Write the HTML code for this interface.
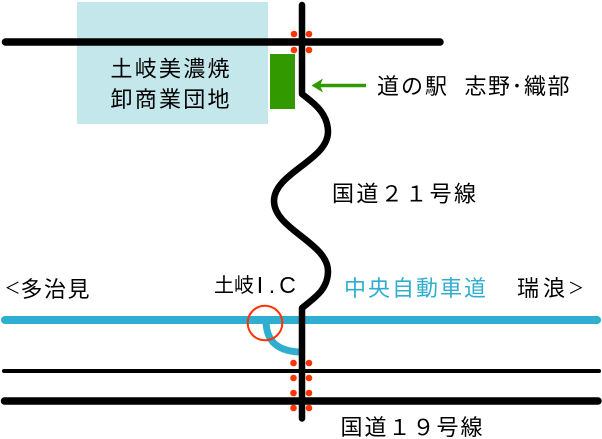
<!DOCTYPE html>
<html><head><meta charset="utf-8">
<style>
html,body{margin:0;padding:0;background:#fff;}
svg{display:block;}
text{font-family:"Liberation Sans","Noto Sans CJK JP",sans-serif;}
</style></head>
<body>
<svg width="602" height="439" viewBox="0 0 602 439" xmlns="http://www.w3.org/2000/svg">
  <!-- wholesale complex area -->
  <rect x="77" y="2" width="191" height="122" fill="#c4e7eb"/>
  <!-- top road -->
  <line x1="5.5" y1="42" x2="440" y2="42" stroke="#000" stroke-width="7.5" stroke-linecap="round"/>
  <!-- michi-no-eki green block -->
  <rect x="270" y="54" width="25" height="55" fill="#339900"/>

  <!-- lower roads -->
  <line x1="4" y1="371" x2="599" y2="371" stroke="#000" stroke-width="4" stroke-linecap="round"/>
  <line x1="4.5" y1="401" x2="598" y2="401" stroke="#000" stroke-width="7.5" stroke-linecap="round"/>

  <!-- IC ramp -->
  <path d="M266,320 C266,340 276,352 303,352" fill="none" stroke="#30aed0" stroke-width="7"/>
  <!-- expressway -->
  <line x1="5" y1="320" x2="597" y2="320" stroke="#30aed0" stroke-width="8" stroke-linecap="round"/>

  <!-- route 21 -->
  <path d="M302,5 L302,94 C312,102 328,112 328,132 C328,160 274,173 274,201 C274,229 328,243 328,271 C328,290 314,298 302,308 L302,418.5"
        fill="none" stroke="#000" stroke-width="6.5" stroke-linecap="round" stroke-linejoin="round"/>

  <!-- IC circle -->
  <circle cx="265" cy="323" r="17.3" fill="none" stroke="#ff3300" stroke-width="2"/>

  <!-- red dots -->
  <g fill="#ff3300">
    <circle cx="294" cy="34" r="3.3"/><circle cx="309" cy="34" r="3.3"/>
    <circle cx="294" cy="50" r="3.3"/><circle cx="309" cy="50" r="3.3"/>
    <circle cx="293.5" cy="363" r="3.3"/><circle cx="309" cy="363" r="3.3"/>
    <circle cx="293.5" cy="378" r="3.3"/><circle cx="309" cy="378" r="3.3"/>
    <circle cx="293.5" cy="393" r="3.3"/><circle cx="309" cy="393" r="3.3"/>
    <circle cx="293.5" cy="408" r="3.3"/><circle cx="309" cy="408" r="3.3"/>
  </g>

  <!-- green arrow -->
  <line x1="320" y1="85.5" x2="366" y2="85.5" stroke="#339900" stroke-width="3.5"/>
  <polygon points="311.5,85.5 323,78.5 320,85.5 323,92.5" fill="#339900"/>

  <!-- labels -->
  <text x="110.5" y="76.5" font-size="22" textLength="119" lengthAdjust="spacing" fill="#000">土岐美濃焼</text>
  <text x="110.5" y="107" font-size="22" textLength="119" lengthAdjust="spacing" fill="#000">卸商業団地</text>

  <text x="377" y="94" font-size="22" textLength="70" lengthAdjust="spacing" fill="#000">道の駅</text>
  <text x="464.5" y="94" font-size="22" textLength="105" lengthAdjust="spacing" fill="#000">志野･織部</text>

  <text x="332" y="201.5" font-size="22" textLength="144" lengthAdjust="spacing" fill="#000">国道２１号線</text>

  <text x="12.5" y="293.5" font-size="16" text-anchor="middle" fill="#000">＜</text>
  <text x="20.5" y="297" font-size="22" textLength="69" lengthAdjust="spacing" fill="#000">多治見</text>

  <text x="214" y="292" font-size="20" textLength="40" lengthAdjust="spacing" fill="#000">土岐</text>
  <text x="260" y="293" font-size="23" text-anchor="middle" fill="#000">I</text>
  <text x="272" y="293" font-size="23" text-anchor="middle" fill="#000">.</text>
  <text x="287.5" y="293" font-size="23" text-anchor="middle" fill="#000">C</text>

  <text x="344" y="296" font-size="22" textLength="142" lengthAdjust="spacing" fill="#30aed0">中央自動車道</text>

  <text x="517" y="296" font-size="22" textLength="48" lengthAdjust="spacing" fill="#000">瑞浪</text>
  <text x="576" y="293.5" font-size="16" text-anchor="middle" fill="#000">＞</text>

  <text x="340.5" y="435" font-size="22" textLength="142" lengthAdjust="spacing" fill="#000">国道１９号線</text>
</svg>
</body></html>
